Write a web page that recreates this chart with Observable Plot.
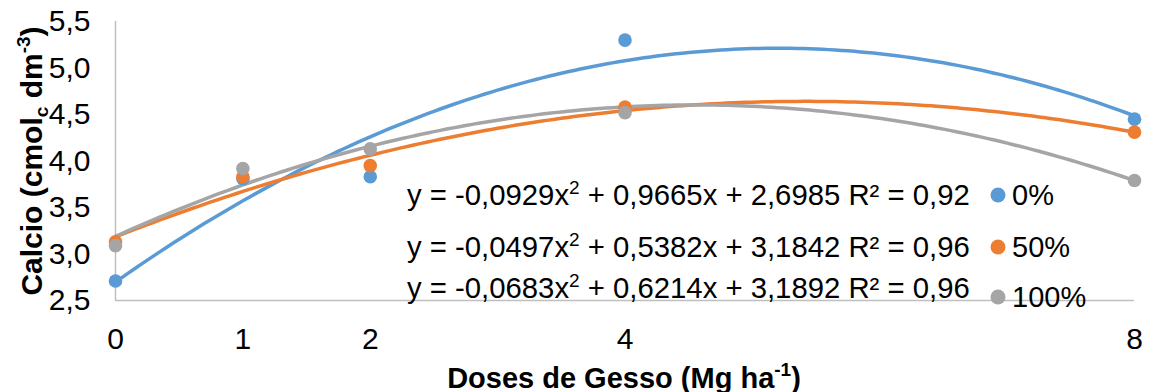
<!DOCTYPE html>
<html><head><meta charset="utf-8">
<script src="https://cdn.jsdelivr.net/npm/d3@7"></script>
<script src="https://cdn.jsdelivr.net/npm/@observablehq/plot@0.6"></script>
<style>body{margin:0;background:#fff;} svg{display:block;}</style>
</head><body><div id="chart"></div>
<script>
// ---- data ----
const doses = [0, 1, 2, 4, 8];
const seriesNames = ["0%", "50%", "100%"];
const calcio0 = [2.71, 3.81, 3.83, 5.30, 4.45];
const calcio50 = [3.13, 3.83, 3.95, 4.58, 4.31];
const calcio100 = [3.09, 3.92, 4.13, 4.52, 3.79];
const coefA = [-0.0929, -0.0497, -0.0683];
const coefB = [0.9665, 0.5382, 0.6214];
const coefC = [2.6985, 3.1842, 3.1892];
const r2 = [0.92, 0.96, 0.96];
const yTicks = [2.5, 3.0, 3.5, 4.0, 4.5, 5.0, 5.5];
const colors = ["#5B9BD5", "#ED7D31", "#A5A5A5"];

const values = [calcio0, calcio50, calcio100];
const points = [];
values.forEach((vals, s) => vals.forEach((v, i) => points.push({serie: seriesNames[s], dose: doses[i], calcio: v})));

// trendlines: the chart's own printed polynomial equations, sampled along x
const curve = [];
seriesNames.forEach((name, s) => {
  const xs = d3.range(0, 8.0001, 0.05);
  xs.forEach(x => curve.push({serie: name, dose: x, calcio: coefA[s]*x*x + coefB[s]*x + coefC[s]}));
});

const comma = (v, n) => v.toFixed(n).replace(".", ",");
const font = "'Liberation Sans', Arial, sans-serif";

const plot = Plot.plot({
  width: 1149, height: 392,
  marginLeft: 115, marginRight: 15, marginTop: 21, marginBottom: 92,
  style: {fontFamily: font, fontSize: "30px", color: "#000", background: "#fff", overflow: "visible"},
  x: {domain: [0, 8]},
  y: {domain: [2.5, 5.5]},
  color: {domain: seriesNames, range: colors},
  marks: [
    Plot.ruleX([0], {stroke: "#BFBFBF", strokeWidth: 1.5}),
    Plot.ruleY([2.5], {stroke: "#BFBFBF", strokeWidth: 1.5}),
    Plot.line(curve, {x: "dose", y: "calcio", z: "serie", stroke: "serie", strokeWidth: 3.5}),
    Plot.dot(points, {x: "dose", y: "calcio", fill: "serie", r: 6.8}),
    Plot.axisX({ticks: doses, tickFormat: d => String(d), tickSize: 0, tickPadding: 27, fontSize: 30, label: null}),
    Plot.axisY({ticks: yTicks, tickFormat: d => comma(d, 1), tickSize: 0, tickPadding: 25, fontSize: 30, label: null})
  ]
});
document.getElementById("chart").appendChild(plot);

// ---- titles, equations and legend (rich text) ----
const svg = d3.select(plot);
const g = svg.append("g").attr("font-family", font).attr("fill", "#000").attr("text-anchor", "start");

// y title
const yt = g.append("text")
  .attr("transform", "translate(42,161) rotate(-90)")
  .attr("text-anchor", "middle").attr("font-size", 30).attr("font-weight", "bold");
yt.append("tspan").text("Calcio (cmol");
yt.append("tspan").attr("font-size", 19).attr("dy", 6).text("c");
yt.append("tspan").attr("dy", -6).text(" dm");
yt.append("tspan").attr("font-size", 19).attr("dy", -12).text("-3");
yt.append("tspan").attr("dy", 12).text(")");

// x title
const xt = g.append("text")
  .attr("x", 624).attr("y", 388)
  .attr("text-anchor", "middle").attr("font-size", 29).attr("font-weight", "bold");
xt.append("tspan").text("Doses de Gesso (Mg ha");
xt.append("tspan").attr("font-size", 19).attr("dy", -12).text("-1");
xt.append("tspan").attr("dy", 12).text(")");

// equations
const eqY = [205, 257, 298];
seriesNames.forEach((name, s) => {
  const t = g.append("text").attr("x", 407).attr("y", eqY[s]).attr("font-size", 29.3);
  t.append("tspan").text("y = " + comma(coefA[s], 4) + "x");
  t.append("tspan").attr("font-size", 19).attr("dy", -11).text("2");
  t.append("tspan").attr("dy", 11).text(" + " + comma(coefB[s], 4) + "x + " + comma(coefC[s], 4) + " R² = " + comma(r2[s], 2));
});

// legend
const legY = [195, 247, 297];
seriesNames.forEach((name, s) => {
  g.append("circle").attr("cx", 998).attr("cy", legY[s]).attr("r", 7.5).attr("fill", colors[s]);
  g.append("text").attr("x", 1012).attr("y", legY[s] + 10).attr("font-size", 29).text(name);
});
</script>
</body></html>
